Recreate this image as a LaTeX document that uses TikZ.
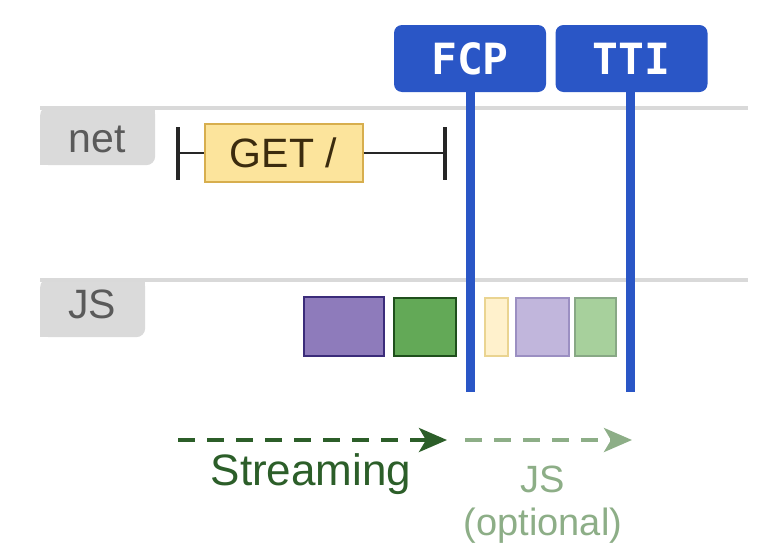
\documentclass[tikz,border=0pt]{standalone}
\usepackage{fontspec}
\setmainfont{Liberation Sans}
\newfontfamily\monobold{DejaVu Sans Mono}[BoldFont={DejaVu Sans Mono Bold}]
\usetikzlibrary{arrows.meta}
\definecolor{mblue}{HTML}{2A56C6}
\definecolor{tabgray}{HTML}{DADADA}
\definecolor{linegray}{HTML}{D9D9D9}
\definecolor{tabtext}{HTML}{5A5A5A}
\definecolor{getfill}{HTML}{FCE49C}
\definecolor{getdraw}{HTML}{D7AE4E}
\definecolor{gettext}{HTML}{3B2B0E}
\definecolor{pfill}{HTML}{8E7BBB}
\definecolor{pdraw}{HTML}{3B2C7A}
\definecolor{gfill}{HTML}{63A957}
\definecolor{gdraw}{HTML}{1F4F1C}
\definecolor{lyfill}{HTML}{FFF1CC}
\definecolor{lydraw}{HTML}{EAD491}
\definecolor{lpfill}{HTML}{C1B6DC}
\definecolor{lpdraw}{HTML}{9B8FC2}
\definecolor{lgfill}{HTML}{A7D09C}
\definecolor{lgdraw}{HTML}{88A885}
\definecolor{dkgreen}{HTML}{2C5E29}
\definecolor{ltgreen}{HTML}{8DAE87}
\tikzset{
  tab/.style={fill=tabgray, rounded corners=9, minimum width=115, minimum height=59, anchor=north west, inner sep=0},
  tablabel/.style={anchor=base, text=tabtext, font=\fontsize{41}{41}\selectfont},
  rowline/.style={draw=linegray, line width=4},
  marker/.style={fill=mblue, rounded corners=8, minimum width=152, minimum height=67, inner sep=0, text=white, font=\monobold\bfseries\fontsize{43}{43}\selectfont},
  mline/.style={draw=mblue, line width=9},
  tick/.style={draw=black!85, line width=3.5},
  task/.style={line width=2, inner sep=0, anchor=north west},
  flow/.style={line width=4, dash pattern=on 17 off 12, -{Stealth[length=28,width=24,inset=7]}},
}
\begin{document}
\begin{tikzpicture}[x=1pt,y=-1pt]
\useasboundingbox (0,0) rectangle (784,557);
% rows
\coordinate (netL) at (40,108);
\coordinate (netR) at (748,108);
\coordinate (jsL) at (40,280);
\coordinate (jsR) at (748,280);
\node[tab] (nettab) at (40,106) {};
\fill[tabgray] (40,150) rectangle (55,165);
\fill[tabgray] (135,106) rectangle (155,120);
\node[tab, minimum width=105] (jstab) at (40,278) {};
\fill[tabgray] (40,322) rectangle (55,337);
\fill[tabgray] (125,278) rectangle (145,292);
\draw[rowline] (netL) -- (netR);
\draw[rowline] (jsL) -- (jsR);
\node[tablabel] (netlbl) at (97,152) {net};
\node[tablabel] (jslbl) at (92,318) {JS};
% network request
\coordinate (t1a) at (178,127);
\coordinate (t1b) at (178,180);
\coordinate (t2a) at (445,127);
\coordinate (t2b) at (445,180);
\coordinate (t1m) at (178,153);
\coordinate (t2m) at (445,153);
\draw[tick] (t1a) -- (t1b);
\draw[tick] (t2a) -- (t2b);
\node[fill=getfill, draw=getdraw, line width=2, minimum width=158, minimum height=58, inner sep=0,
      text=gettext, font=\fontsize{41}{41}\selectfont] (get) at (283.5,153) {GET /};
\draw[line width=2, black!85] (t1m) -- (get.west);
\draw[line width=2, black!85] (get.east) -- (t2m);
% JS tasks
\node[task, fill=pfill, draw=pdraw, minimum width=80, minimum height=59] (p1) at (303,296) {};
\node[task, fill=gfill, draw=gdraw, minimum width=62, minimum height=58] (g1) at (393,297) {};
\node[task, fill=lyfill, draw=lydraw, minimum width=23, minimum height=58] (y1) at (484,297) {};
\node[task, fill=lpfill, draw=lpdraw, minimum width=53, minimum height=58] (p2) at (515,297) {};
\node[task, fill=lgfill, draw=lgdraw, minimum width=41, minimum height=58] (g2) at (574,297) {};
% markers
\node[marker] (fcp) at (470,58.5) {FCP};
\node[marker] (tti) at (631.5,58.5) {TTI};
\coordinate (fcpend) at (470,392);
\coordinate (ttiend) at (630,392);
\draw[mline] (fcp.south) -- (fcpend);
\draw[mline] (tti.south -| ttiend) -- (ttiend);
% arrows
\coordinate (a1s) at (178,440);
\coordinate (a1e) at (447,440);
\coordinate (a2s) at (465,440);
\coordinate (a2e) at (632,440);
\draw[flow, dkgreen] (a1s) -- (a1e);
\draw[flow, ltgreen] (a2s) -- (a2e);
\node[anchor=base, text=dkgreen, font=\fontsize{44}{44}\selectfont] (stream) at (311,485) {Streaming};
\node[anchor=base, text=ltgreen, font=\fontsize{38}{38}\selectfont] (jsopt) at (543,492) {JS};
\node[anchor=base, text=ltgreen, font=\fontsize{38}{38}\selectfont] (optional) at (543,535) {(optional)};
\end{tikzpicture}
\end{document}
